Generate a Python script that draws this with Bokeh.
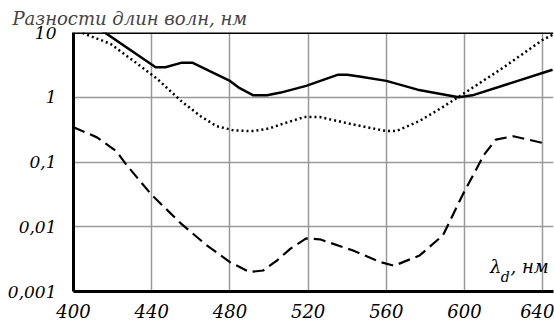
from bokeh.plotting import figure
from bokeh.models import FixedTicker, Span, Label, Range1d
from bokeh.embed import file_html
from bokeh.resources import INLINE

# data (wavelength, nm ; difference, nm)
solid_x = [415, 442, 447, 455, 461, 480, 485, 492, 499, 506, 519, 535, 540, 547, 560, 576, 597, 604, 645]
solid_y = [10.5, 2.9, 2.9, 3.4, 3.4, 1.79, 1.38, 1.07, 1.07, 1.18, 1.5, 2.22, 2.22, 2.07, 1.79, 1.31, 1.0, 1.07, 2.66]

dot_x = [400, 404, 419, 434, 443, 455, 465, 473, 482, 492, 500, 506, 518, 526, 543, 560, 565, 577, 589, 599, 620, 640, 645]
dot_y = [11.5, 10.0, 6.67, 3.07, 1.9, 0.877, 0.51, 0.36, 0.307, 0.30, 0.33, 0.38, 0.494, 0.494, 0.38, 0.30, 0.30, 0.43, 0.71, 1.11, 2.9, 7.7, 9.2]

dash_x = [400, 412, 422, 427, 440, 455, 468, 480, 490, 497, 504, 511, 519, 526, 543, 557, 564, 577, 589, 599, 610, 616, 625, 640]
dash_y = [0.345, 0.24, 0.146, 0.091, 0.031, 0.0112, 0.0052, 0.00284, 0.0020, 0.00211, 0.003, 0.0046, 0.0066, 0.0064, 0.0043, 0.00285, 0.0025, 0.0036, 0.0074, 0.031, 0.13, 0.222, 0.25, 0.197]

x_ticks = [400, 440, 480, 520, 560, 600, 640]
y_ticks = [0.001, 0.01, 0.1, 1, 10]
y_labels = ["0,001", "0,01", "0,1", "1", "10"]

FONT = "DejaVu Serif"

p = figure(width=554, height=320, y_axis_type="log",
           x_range=Range1d(400, 645.5), y_range=Range1d(0.001, 10),
           output_backend="svg", toolbar_location=None,
           min_border_left=73, min_border_right=1, min_border_top=32, min_border_bottom=27)

p.title.text = "Разности длин волн, нм"
p.title.text_font = FONT
p.title.text_font_style = "italic"
p.title.text_font_size = "18px"
p.title.offset = -61
p.title.standoff = 7

p.outline_line_color = None

p.line(solid_x, solid_y, line_color="black", line_width=2.5)
p.line(dot_x, dot_y, line_color="black", line_width=2.5, line_dash="2 3")
p.line(dash_x, dash_y, line_color="black", line_width=2.2, line_dash="12 6")

for ax in (p.xaxis[0], p.yaxis[0]):
    ax.axis_line_width = 3
    ax.axis_line_color = "black"
    ax.major_tick_line_color = None
    ax.minor_tick_line_color = None
    ax.major_label_text_font = FONT
    ax.major_label_text_font_style = "italic"
    ax.major_label_text_font_size = "18px"
    ax.major_label_text_color = "black"
p.yaxis.major_label_text_font_size = "17px"

p.xaxis.ticker = FixedTicker(ticks=x_ticks)
p.yaxis.ticker = FixedTicker(ticks=y_ticks)
p.yaxis.major_label_overrides = {t: l for t, l in zip(y_ticks, y_labels)}
p.xaxis.major_label_standoff = 6
p.yaxis.major_label_standoff = 11

p.xgrid.ticker = FixedTicker(ticks=x_ticks)
p.ygrid.ticker = FixedTicker(ticks=y_ticks)
for g in (p.xgrid[0], p.ygrid[0]):
    g.grid_line_color = "#999999"
    g.grid_line_width = 1.5
p.ygrid.minor_grid_line_color = None

p.add_layout(Span(location=10, dimension="width", line_color="black", line_width=3))

# axis name inside the plot
lab_font = dict(text_font=FONT, text_font_style="italic", text_color="black")
p.add_layout(Label(x=613, y=0.0017, text="λ", text_font_size="18px", text_align="left", **lab_font))
p.add_layout(Label(x=618.5, y=0.00125, text="d", text_font_size="14px", text_align="left", **lab_font))
p.add_layout(Label(x=623.5, y=0.0017, text=", нм", text_font_size="18px", text_align="left", **lab_font))

open("out.html", "w").write(file_html(p, INLINE))
